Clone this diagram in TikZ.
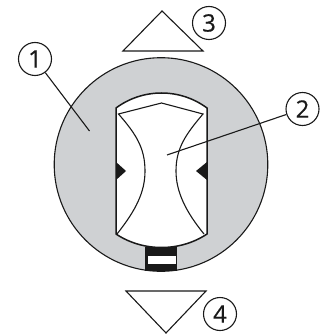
\documentclass[tikz,border=0pt]{standalone}
\usepackage{fontspec}
\setmainfont{Open Sans}
\newfontfamily\calloutfont[RawFeature={embolden=0.5}]{Open Sans}
\tikzset{
  callout/.style={draw=black!90,line width=1.1pt,circle,inner sep=0pt,minimum size=33pt,font=\calloutfont\fontsize{24}{24}\selectfont,text=black!90},
  thinline/.style={draw=black!90,line width=1.1pt},
  mainline/.style={draw=black!90,line width=1.5pt}
}
\begin{document}
\begin{tikzpicture}[x=1pt,y=-1pt]
\useasboundingbox (0,0) rectangle (320,334);
\definecolor{disc}{RGB}{207,209,211}
% disc
\fill[disc] (161,164.5) circle (106.8);
\draw[thinline] (161,164.5) circle (106.8);
% window
\fill[white,mainline] (116,234) -- (116,108) .. controls (143,88) and (180,88) .. (207,108) -- (207,234) .. controls (180,252) and (143,252) .. (116,234) -- cycle;
% lens
\draw[thinline] (117,234) .. controls (136,210) and (145,192) .. (145,171) .. controls (145,148) and (136,134) .. (118.5,114) -- (161.5,103) -- (203,114) .. controls (186,134) and (176,148) .. (176,171) .. controls (176,192) and (186,212) .. (204,234);
% black marks
\fill[black!90] (116,162) -- (126,171) -- (116,180) -- cycle;
\fill[black!90] (207,162) -- (196,171) -- (207,180) -- cycle;
\fill[black!90] (145,247) -- (177,247) -- (177,271) -- (145,271) -- cycle;
\fill[white] (147.5,256) rectangle (176,263.5);
% triangles
\draw[thinline,line join=miter] (162,11) -- (203,51) -- (123,51) -- cycle;
\draw[thinline,line join=miter] (126,291) -- (206,291) -- (166,333) -- cycle;
% callouts
\node[callout] (n1) at (35,59) {1};
\node[callout] (n2) at (302.5,109) {2};
\node[callout] (n3) at (209,23) {3};
\node[callout] (n4) at (220,314) {4};
\coordinate (t1) at (89.5,131);
\coordinate (t2) at (167,155);
\draw[thinline] (n1) -- (t1);
\draw[thinline] (n2) -- (t2);
\end{tikzpicture}
\end{document}
